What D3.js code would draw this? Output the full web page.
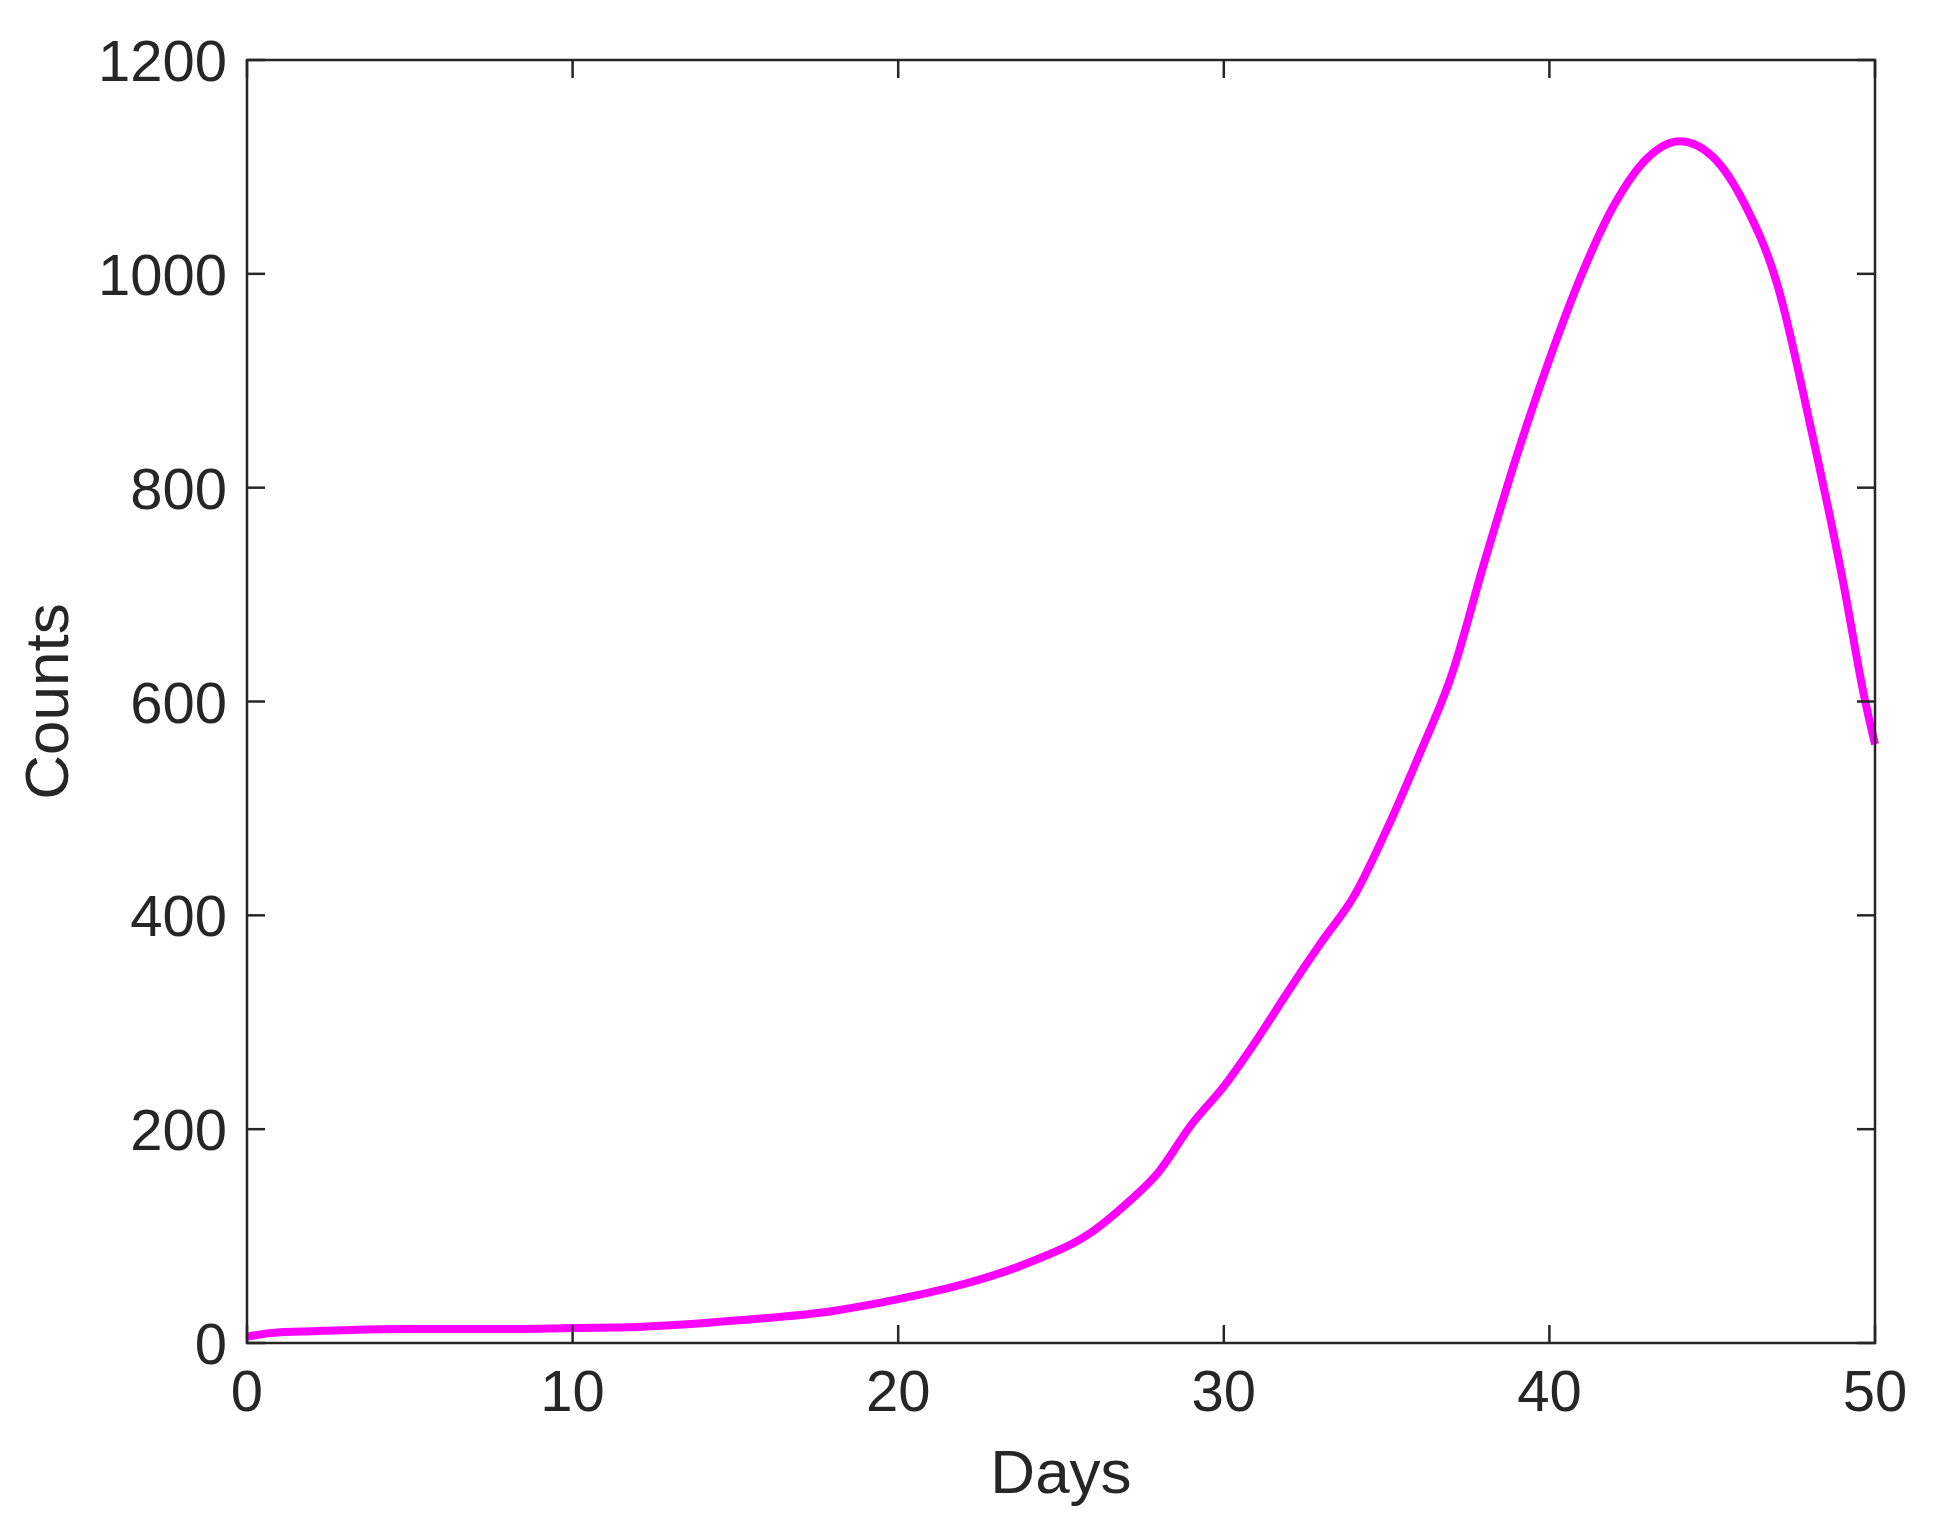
<!DOCTYPE html>
<html><head><meta charset="utf-8">
<script src="https://cdn.jsdelivr.net/npm/d3@7/dist/d3.min.js"></script>
<style>body{margin:0;background:#fff}svg{display:block}text{font-family:"Liberation Sans",Arial,sans-serif;fill:#262626}</style>
</head><body><svg id="c" width="1935" height="1539"></svg>
<script>
const days = [0,1,2,3,5,8,10,12,15,18,20,22,24,26,27,28,29,30,31,32,33,34,35,36,37,38,39,40,41,42,43,44,45,46,47,48,49,49.7,50];
const counts = [6,10,11,12,13,13,14,15,21,30,41,55,75,105,130,160,204,240,283,330,375,418,480,550,625,730,830,920,1000,1065,1108,1124,1110,1065,990,860,715,600,560];
const xTicks = [0,10,20,30,40,50];
const yTicks = [0,200,400,600,800,1000,1200];

const L=247,R=1875,T=60,B=1343;
const svg=d3.select("#c");
const x=d3.scaleLinear().domain([0,50]).range([L,R]);
const y=d3.scaleLinear().domain([0,1200]).range([B,T]);
const col="#262626";
const fs=58, tl=18;

svg.append("path").datum(days.map((d,i)=>[d,counts[i]]))
  .attr("d",d3.line().x(d=>x(d[0])).y(d=>y(d[1])).curve(d3.curveMonotoneX))
  .attr("fill","none").attr("stroke","#ff00ff").attr("stroke-width",8);

svg.append("rect").attr("x",L).attr("y",T).attr("width",R-L).attr("height",B-T)
  .attr("fill","none").attr("stroke",col).attr("stroke-width",2.5);

const g=svg.append("g");
xTicks.forEach(t=>{
  g.append("line").attr("x1",x(t)).attr("x2",x(t)).attr("y1",B).attr("y2",B-tl).attr("stroke",col).attr("stroke-width",2.5);
  g.append("line").attr("x1",x(t)).attr("x2",x(t)).attr("y1",T).attr("y2",T+tl).attr("stroke",col).attr("stroke-width",2.5);
  g.append("text").attr("x",x(t)).attr("y",B+68).attr("text-anchor","middle").attr("font-size",fs).text(t);
});
yTicks.forEach(t=>{
  g.append("line").attr("x1",L).attr("x2",L+tl).attr("y1",y(t)).attr("y2",y(t)).attr("stroke",col).attr("stroke-width",2.5);
  g.append("line").attr("x1",R).attr("x2",R-tl).attr("y1",y(t)).attr("y2",y(t)).attr("stroke",col).attr("stroke-width",2.5);
  g.append("text").attr("x",L-20).attr("y",y(t)+21).attr("text-anchor","end").attr("font-size",fs).text(t);
});
svg.append("text").attr("x",(L+R)/2).attr("y",B+150).attr("text-anchor","middle").attr("font-size",62).text("Days");
svg.append("text").attr("transform",`translate(68,${(T+B)/2}) rotate(-90)`).attr("text-anchor","middle").attr("font-size",62).text("Counts");
</script></body></html>
